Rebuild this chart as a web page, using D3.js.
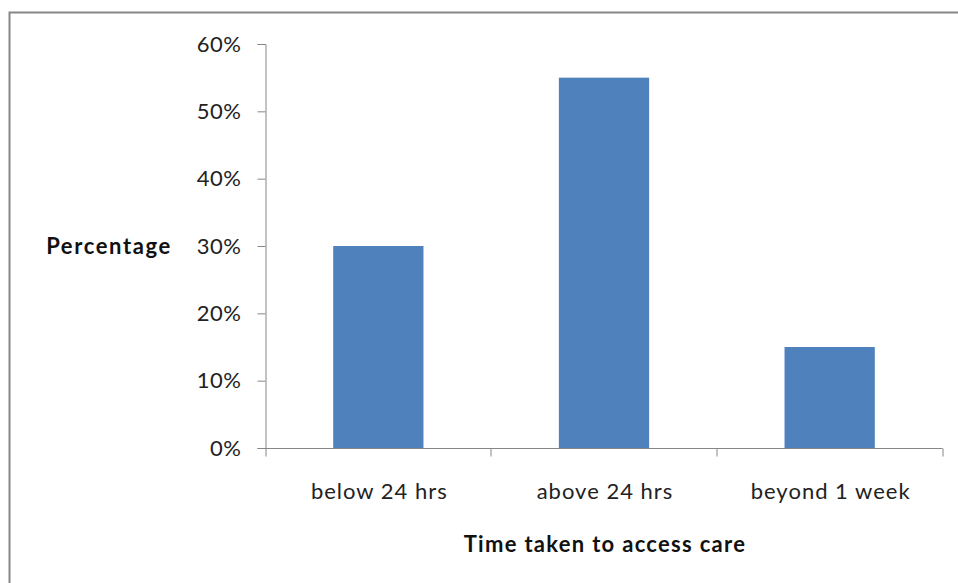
<!DOCTYPE html>
<html>
<head>
<meta charset="utf-8">
<script src="https://cdn.jsdelivr.net/npm/d3@7"></script>
<style>
  html, body { margin: 0; padding: 0; background: #fff; }
  svg { display: block; }
  text { font-family: Lato, "Open Sans", sans-serif; }
</style>
</head>
<body>
<svg id="chart" width="958" height="583"></svg>
<script>
// Share of respondents by time taken to access care
const categories = ["below 24 hrs", "above 24 hrs", "beyond 1 week"];
const values = [0.30, 0.55, 0.15];
const yTicks = [0, 0.1, 0.2, 0.3, 0.4, 0.5, 0.6];

const svg = d3.select("#chart");
const W = 958, H = 583;

// outer chart frame
svg.append("rect")
  .attr("x", 9.5).attr("y", 12.5)
  .attr("width", W + 10).attr("height", H + 10)
  .attr("fill", "#fff")
  .attr("stroke", "#878787")
  .attr("stroke-width", 2);

const plot = { left: 265.5, right: 942.5, top: 44, bottom: 448 };

const x = d3.scaleBand()
  .domain(categories)
  .range([plot.left, plot.right])
  .paddingInner(0.6)
  .paddingOuter(0.3);

const y = d3.scaleLinear()
  .domain([0, 0.6])
  .range([plot.bottom, plot.top]);

const axisColor = "#868686";
const labelSize = 22;

// bars
svg.append("g").selectAll("rect")
  .data(values)
  .join("rect")
  .attr("x", (d, i) => x(categories[i]))
  .attr("y", d => y(d))
  .attr("width", x.bandwidth())
  .attr("height", d => y(0) - y(d))
  .attr("fill", "#4F81BD");

// y axis
const yAxis = svg.append("g")
  .attr("transform", `translate(${plot.left},0)`)
  .call(d3.axisLeft(y).tickValues(yTicks).tickFormat(d3.format(".0%")).tickSize(8).tickPadding(16));
yAxis.select(".domain").attr("stroke", axisColor);
yAxis.selectAll(".tick line").attr("stroke", axisColor);
yAxis.selectAll(".tick text")
  .attr("font-size", labelSize)
  .attr("letter-spacing", 0.5)
  .attr("fill", "#222");

// x axis with category boundary ticks
const xAxis = svg.append("g")
  .attr("transform", `translate(0,${plot.bottom + 0.5})`);
xAxis.append("line")
  .attr("x1", plot.left).attr("x2", plot.right)
  .attr("stroke", axisColor);
const step = (plot.right - plot.left) / categories.length;
xAxis.selectAll(".bound")
  .data(d3.range(categories.length + 1))
  .join("line")
  .attr("class", "bound")
  .attr("x1", i => Math.round(plot.left + i * step))
  .attr("x2", i => Math.round(plot.left + i * step))
  .attr("y1", 0).attr("y2", 8)
  .attr("stroke", axisColor);
xAxis.selectAll(".lbl")
  .data(categories)
  .join("text")
  .attr("class", "lbl")
  .attr("x", d => x(d) + x.bandwidth() / 2 + 1)
  .attr("y", 50)
  .attr("text-anchor", "middle")
  .attr("font-size", labelSize)
  .attr("letter-spacing", 1)
  .attr("fill", "#222")
  .text(d => d);

// axis titles
svg.append("text")
  .attr("x", 109).attr("y", 254)
  .attr("text-anchor", "middle")
  .attr("font-size", labelSize)
  .attr("font-weight", "bold")
  .attr("letter-spacing", 1.6)
  .attr("fill", "#111")
  .text("Percentage");

svg.append("text")
  .attr("x", 605).attr("y", 552)
  .attr("text-anchor", "middle")
  .attr("font-size", labelSize)
  .attr("font-weight", "bold")
  .attr("letter-spacing", 1.3)
  .attr("fill", "#111")
  .text("Time taken to access care");
</script>
</body>
</html>
